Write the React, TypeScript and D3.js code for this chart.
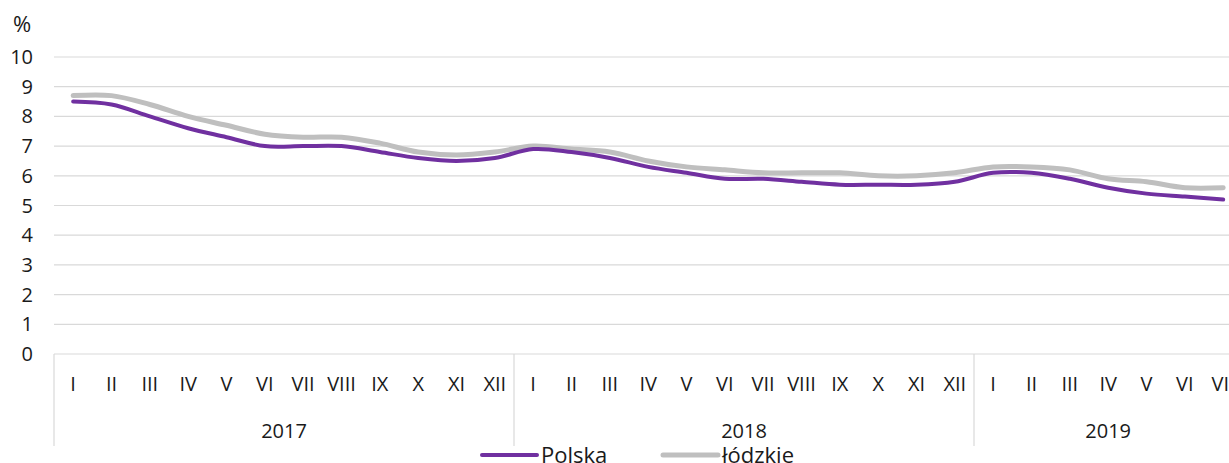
import React from "react";
import * as d3 from "d3";

const months = ["I","II","III","IV","V","VI","VII","VIII","IX","X","XI","XII"];
const years = ["2017", "2018", "2019"];
const monthsPerYear = [12, 12, 7];
const yTicks = [0,1,2,3,4,5,6,7,8,9,10];

const polska = [
  8.5, 8.4, 8.0, 7.6, 7.3, 7.0, 7.0, 7.0, 6.8, 6.6, 6.5, 6.6,
  6.9, 6.8, 6.6, 6.3, 6.1, 5.9, 5.9, 5.8, 5.7, 5.7, 5.7, 5.8,
  6.1, 6.1, 5.9, 5.6, 5.4, 5.3, 5.2,
];
const lodzkie = [
  8.7, 8.7, 8.4, 8.0, 7.7, 7.4, 7.3, 7.3, 7.1, 6.8, 6.7, 6.8,
  7.0, 6.9, 6.8, 6.5, 6.3, 6.2, 6.1, 6.1, 6.1, 6.0, 6.0, 6.1,
  6.3, 6.3, 6.2, 5.9, 5.8, 5.6, 5.6,
];

const seriesNames = ["Polska", "łódzkie"];
const seriesColors = ["#7030A0", "#BFBFBF"];

export default function App() {
  const W = 1229, H = 463;
  const left = 54;
  const step = 460 / 12;
  const n = polska.length;
  const x = d3.scaleBand<number>().domain(d3.range(n)).range([left, left + n * step]).padding(0);
  const y = d3.scaleLinear().domain([0, 10]).range([354, 57]);
  const cx = (i: number) => (x(i) as number) + x.bandwidth() / 2;

  const line = d3.line<number>()
    .x((_, i) => cx(i))
    .y((d) => y(d))
    .curve(d3.curveCatmullRom.alpha(0.5));

  const labels: { label: string; i: number }[] = [];
  let idx = 0;
  monthsPerYear.forEach((m) => {
    for (let k = 0; k < m; k++) labels.push({ label: months[k], i: idx++ });
  });

  const yearStarts: number[] = [];
  let acc = 0;
  monthsPerYear.forEach((m) => { yearStarts.push(acc); acc += m; });

  const font = "'Open Sans', 'Noto Sans', sans-serif";
  const txt = "#1a1a1a";

  return (
    <svg width={W} height={H} style={{ position: "absolute", left: 0, top: 0, background: "#fff" }} fontFamily={font}>
      {yTicks.map((t) => (
        <g key={t}>
          {t > 0 && <line x1={left} x2={W} y1={y(t)} y2={y(t)} stroke="#D9D9D9" strokeWidth={1.2} />}
          <text x={33} y={y(t)} dy="0.35em" textAnchor="end" fontSize={20} fill={txt}>{t}</text>
        </g>
      ))}
      <text x={22} y={24} dy="0.35em" textAnchor="middle" fontSize={22} fill={txt}>%</text>
      <line x1={left} x2={W} y1={y(0)} y2={y(0)} stroke="#D9D9D9" strokeWidth={1.2} />
      {yearStarts.map((s, k) => (
        <line key={k} x1={x(s) as number} x2={x(s) as number} y1={y(0)} y2={446} stroke="#D9D9D9" strokeWidth={1.2} />
      ))}
      {labels.map((l) => (
        <text key={l.i} x={cx(l.i)} y={384} dy="0.35em" textAnchor="middle" fontSize={20} fill={txt}>{l.label}</text>
      ))}
      {years.map((yr, k) => {
        const s = yearStarts[k];
        const mid = (x(s) as number) + (monthsPerYear[k] * step) / 2;
        return <text key={yr} x={mid} y={431} dy="0.35em" textAnchor="middle" fontSize={20} fill={txt}>{yr}</text>;
      })}
      <path d={line(lodzkie) || ""} fill="none" stroke={seriesColors[1]} strokeWidth={5} strokeLinecap="round" />
      <path d={line(polska) || ""} fill="none" stroke={seriesColors[0]} strokeWidth={4} strokeLinecap="round" />
      {[482, 663].map((lx, k) => (
        <g key={k}>
          <line x1={lx} x2={lx + 55} y1={455} y2={455} stroke={seriesColors[k]} strokeWidth={k === 0 ? 4 : 5} strokeLinecap="round" />
          <text x={lx + 59} y={455} dy="0.35em" fontSize={22} fill={txt}>{seriesNames[k]}</text>
        </g>
      ))}
    </svg>
  );
}
